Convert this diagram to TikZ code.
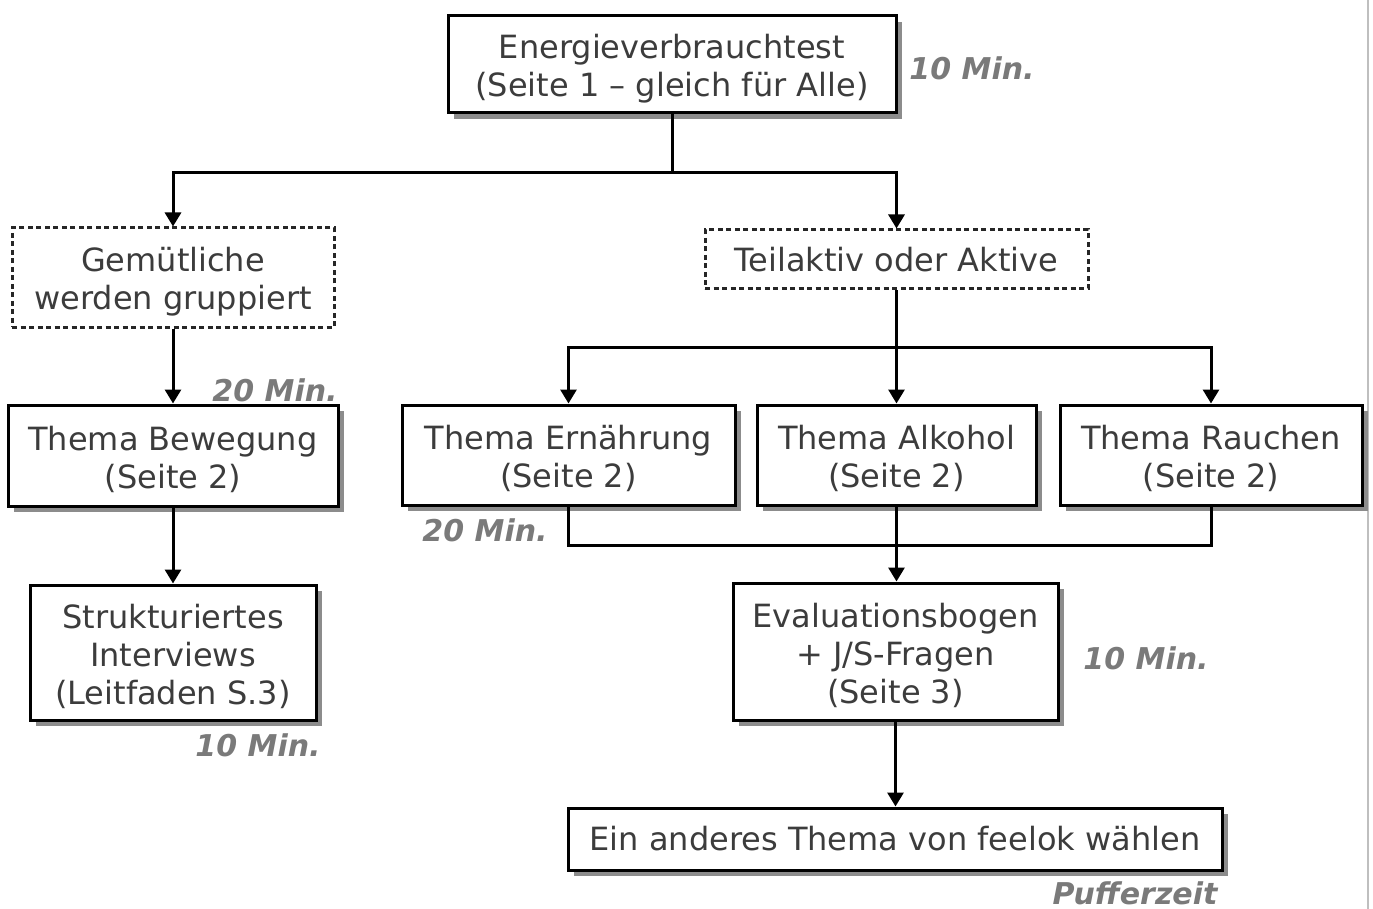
\documentclass[tikz,border=0pt]{standalone}
\usepackage{fontspec}
\setmainfont{DejaVu Sans}
\usetikzlibrary{arrows.meta,shadows}
\definecolor{txt}{HTML}{3C3C3C}
\definecolor{lbl}{HTML}{7A7A7A}
\newcommand\mydn{\rule{0pt}{32pt}}
\tikzset{
 box/.style={draw=black, line width=3pt, fill=white, text=txt, align=center, inner sep=0pt,
   font=\fontsize{32}{38}\selectfont,
   drop shadow={shadow xshift=6pt, shadow yshift=-6pt, fill=black!45, opacity=1}},
 dbox/.style={draw=black!85, line width=3pt, dash pattern=on 5pt off 3.5pt, fill=white, text=txt,
   align=center, inner sep=0pt, font=\fontsize{32}{38}\selectfont},
 lab/.style={text=lbl, font=\fontsize{30}{34}\selectfont\bfseries\itshape, inner sep=0pt},
 arr/.style={line width=3pt, -{Triangle[width=16pt,length=14pt]}},
 ln/.style={line width=3pt}
}
\begin{document}
\begin{tikzpicture}[x=1pt,y=-1pt]
\useasboundingbox[fill=white] (0,0) rectangle (1373,909);
\draw[black!25, line width=2pt] (1368,0) -- (1368,909);

\node[box, minimum width=448pt, minimum height=97pt] (top) at (672,64.5)
  {\mydn Energieverbrauchtest\\(Seite 1 -- gleich für Alle)};
\node[dbox, minimum width=322pt, minimum height=99pt] (gem) at (173,277.5)
  {\mydn Gemütliche\\werden gruppiert};
\node[dbox, minimum width=383pt, minimum height=59pt] (teil) at (896.5,259.5)
  {Teilaktiv oder Aktive};
\node[box, minimum width=330pt, minimum height=101pt] (bew) at (173,455.5)
  {\mydn Thema Bewegung\\(Seite 2)};
\node[box, minimum width=333pt, minimum height=100pt] (ern) at (568.5,455)
  {\mydn Thema Ernährung\\(Seite 2)};
\node[box, minimum width=279pt, minimum height=100pt] (alk) at (896.5,455)
  {\mydn Thema Alkohol\\(Seite 2)};
\node[box, minimum width=302pt, minimum height=100pt] (rau) at (1211,455)
  {\mydn Thema Rauchen\\(Seite 2)};
\node[box, minimum width=286pt, minimum height=135pt] (str) at (173,652.5)
  {\mydn Strukturiertes\\Interviews\\(Leitfaden S.3)};
\node[box, minimum width=325pt, minimum height=137pt] (eva) at (895.5,651.5)
  {\mydn Evaluationsbogen\\+ J/S-Fragen\\(Seite 3)};
\node[box, minimum width=654pt, minimum height=62pt] (end) at (895,839)
  {Ein anderes Thema von feelok wählen};

\node[lab] (l1) at (972,68) {10 Min.};
\node[lab] (l2) at (275,390) {20 Min.};
\node[lab] (l3) at (485,530) {20 Min.};
\node[lab] (l4) at (1146,658) {10 Min.};
\node[lab] (l5) at (258,745) {10 Min.};
\node[lab] (l6) at (1135,893) {Pufferzeit};

\coordinate (j1) at (672,173);
\draw[ln] (top.south) -- (j1);
\draw[arr] (j1) -| (gem.north);
\draw[arr] (j1) -| (teil.north);

\draw[arr] (gem.south) -- (bew.north);
\draw[arr] (bew.south) -- (str.north);

\coordinate (j2) at (896.5,347);
\draw[ln] (teil.south) -- (j2);
\draw[arr] (j2) -| (ern.north);
\draw[arr] (j2) -- (alk.north);
\draw[arr] (j2) -| (rau.north);

\coordinate (j3) at (896.5,545);
\draw[ln] (ern.south) |- (j3);
\draw[ln] (rau.south) |- (j3);
\draw[arr] (alk.south) -- (alk.south |- eva.north);
\draw[arr] (eva.south) -- (eva.south |- end.north);
\end{tikzpicture}
\end{document}
